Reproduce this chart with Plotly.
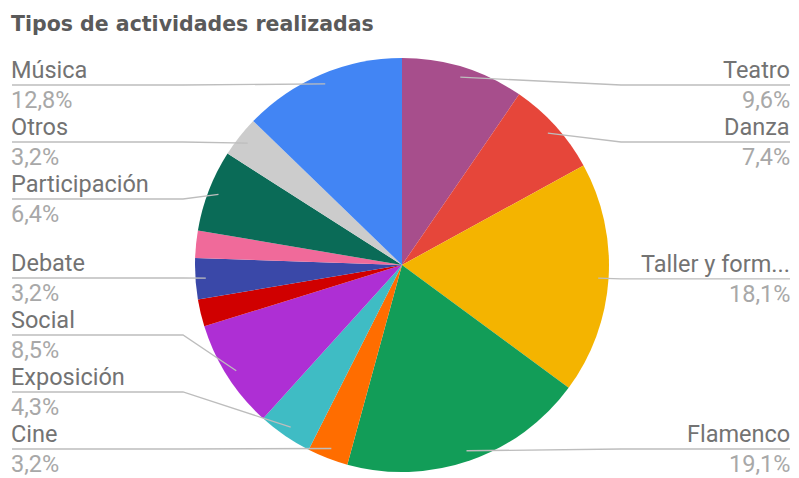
import math
import plotly.graph_objects as go

# ---- data ----
categories = ["Teatro", "Danza", "Taller y formación", "Flamenco", "Cine", "Exposición",
              "Social", "Conferencia", "Debate", "Literatura", "Participación", "Otros", "Música"]
counts = [9, 7, 17, 18, 3, 4, 8, 2, 3, 2, 6, 3, 12]
colors = ["#A74E8C", "#E6463A", "#F4B400", "#129D58", "#FF6D00", "#3FBCC4",
          "#AE2FD4", "#D00000", "#3A48A8", "#F06A9A", "#0A6B57", "#CCCCCC", "#4285F4"]
title_text = "Tipos de actividades realizadas"

# ---- layout constants (page pixels; the page body has an 8px margin) ----
PW, PH, OFF = 799, 478, 8
FW, FH = PW - OFF, PH - OFF
cx, cy, R = 402, 265, 207
FONT = "Roboto"


def px(x):
    return (x - OFF) / FW


def py(y):
    return 1 - (y - OFF) / FH


fig = go.Figure(go.Pie(
    labels=categories, values=counts, sort=False, direction="clockwise", rotation=0,
    marker=dict(colors=colors, line=dict(width=0)),
    textinfo="none", hoverinfo="label+percent", showlegend=False,
    domain=dict(x=[px(cx - R), px(cx + R)],
                y=[max(0.0, py(cy + R)), min(1.0, py(cy - R))]),
))

total = sum(counts)
ann = []
shapes = []

items = {"r": [], "l": []}
acc = 0
for name, v in zip(categories, counts):
    pct = 100 * v / total
    mid = (acc + v / 2) / total * 2 * math.pi
    acc += v
    if pct < 3:
        continue
    side = "r" if mid < math.pi else "l"
    ny = cy - R * math.cos(mid)
    items[side].append(dict(name=name, pct=pct, mid=mid, y=ny))

GAP, YMIN, YMAX = 57, 85, 449
for side, lst in items.items():
    lst.sort(key=lambda d: d["y"])
    prev = YMIN - GAP
    for d in lst:
        d["ly"] = max(d["y"], prev + GAP, YMIN)
        prev = d["ly"]
    nxt = YMAX + GAP
    for d in reversed(lst):
        d["ly"] = min(d["ly"], nxt - GAP)
        nxt = d["ly"]

for side, lst in items.items():
    s = 1 if side == "r" else -1
    xend = 790 if side == "r" else 12
    xtxt = 791 if side == "r" else 10
    xel = cx + s * (R + 12)
    for d in lst:
        ax = cx + 0.95 * R * math.sin(d["mid"])
        ay = cy - 0.95 * R * math.cos(d["mid"])
        ly = d["ly"]
        path = f"M {px(ax)} {py(ay)} L {px(xel)} {py(ly)} L {px(xend)} {py(ly)}"
        shapes.append(dict(type="path", xref="paper", yref="paper", path=path,
                           line=dict(color="#BDBDBD", width=1.3), layer="above"))
        xanchor = "right" if side == "r" else "left"
        label = d["name"] if len(d["name"]) <= 14 else d["name"][:13] + "..."
        ann.append(dict(x=px(xtxt), y=py(ly), xref="paper", yref="paper",
                        text=label, showarrow=False, xanchor=xanchor, yanchor="bottom",
                        borderpad=0,
                        font=dict(family=FONT, size=23.5, color="#737373")))
        ann.append(dict(x=px(xtxt), y=py(ly), xref="paper", yref="paper",
                        text=f"{d['pct']:.1f}".replace(".", ",") + "%",
                        showarrow=False, xanchor=xanchor, yanchor="top",
                        borderpad=0,
                        font=dict(family=FONT, size=23.5, color="#A8A8A8")))

ann.append(dict(x=px(9), y=py(10), xref="paper", yref="paper", text=f"<b>{title_text}</b>",
                showarrow=False, xanchor="left", yanchor="top",
                font=dict(family="DejaVu Sans", size=20.5, color="#5A5A5A")))

fig.update_layout(width=FW, height=FH, margin=dict(l=0, r=0, t=0, b=0),
                  paper_bgcolor="white", plot_bgcolor="white",
                  annotations=ann, shapes=shapes)

fig.write_html("out.html")
